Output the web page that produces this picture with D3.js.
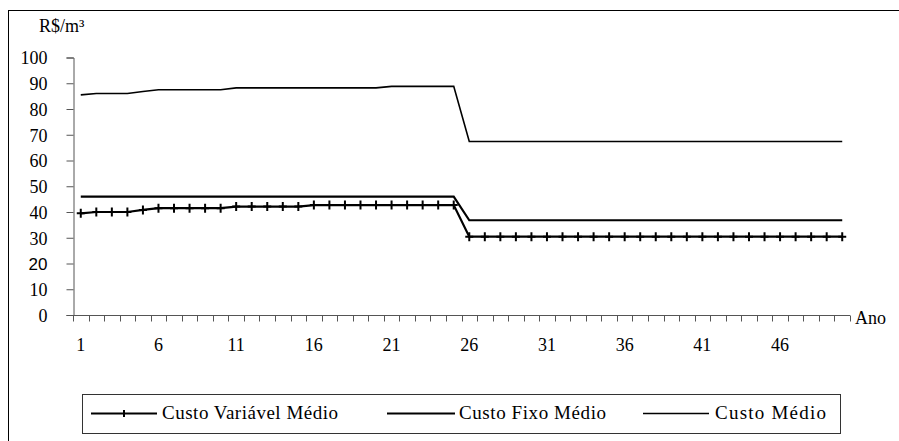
<!DOCTYPE html>
<html>
<head>
<meta charset="utf-8">
<script src="https://cdn.jsdelivr.net/npm/d3@7"></script>
<style>
  body { margin: 0; background: #fff; }
</style>
</head>
<body>
<div id="chart"></div>
<script>
// Years 1..50
const years = d3.range(1, 51);
const yTicks = [0, 10, 20, 30, 40, 50, 60, 70, 80, 90, 100];
const xLabels = [1, 6, 11, 16, 21, 26, 31, 36, 41, 46];

// Custo Variável Médio (R$/m³)
const custoVariavel = [
  39.5, 40, 40, 40, 40.8, 41.5, 41.5, 41.5, 41.5, 41.5,
  42.1, 42.1, 42.1, 42.1, 42.1, 42.7, 42.7, 42.7, 42.7, 42.7,
  42.7, 42.7, 42.7, 42.7, 42.7, 30.4, 30.4, 30.4, 30.4, 30.4,
  30.4, 30.4, 30.4, 30.4, 30.4, 30.4, 30.4, 30.4, 30.4, 30.4,
  30.4, 30.4, 30.4, 30.4, 30.4, 30.4, 30.4, 30.4, 30.4, 30.4
];
// Custo Fixo Médio
const custoFixo = [
  46, 46, 46, 46, 46, 46, 46, 46, 46, 46,
  46, 46, 46, 46, 46, 46, 46, 46, 46, 46,
  46, 46, 46, 46, 46, 36.8, 36.8, 36.8, 36.8, 36.8,
  36.8, 36.8, 36.8, 36.8, 36.8, 36.8, 36.8, 36.8, 36.8, 36.8,
  36.8, 36.8, 36.8, 36.8, 36.8, 36.8, 36.8, 36.8, 36.8, 36.8
];
// Custo Médio
const custoMedio = [
  85.5, 86, 86, 86, 86.8, 87.5, 87.5, 87.5, 87.5, 87.5,
  88.2, 88.2, 88.2, 88.2, 88.2, 88.2, 88.2, 88.2, 88.2, 88.2,
  88.8, 88.8, 88.8, 88.8, 88.8, 67.4, 67.4, 67.4, 67.4, 67.4,
  67.4, 67.4, 67.4, 67.4, 67.4, 67.4, 67.4, 67.4, 67.4, 67.4,
  67.4, 67.4, 67.4, 67.4, 67.4, 67.4, 67.4, 67.4, 67.4, 67.4
];

const w = 899, h = 441;
const axisColor = '#555';
const serif = '"Liberation Serif", "Times New Roman", serif';

const svg = d3.select('#chart')
  .append('svg')
  .attr('width', w)
  .attr('height', h)
  .style('font-family', serif);

// Outer frame (runs off the right and bottom edges)
svg.append('rect')
  .attr('x', 8.5).attr('y', 10.5)
  .attr('width', 1000).attr('height', 1000)
  .attr('fill', 'none')
  .attr('stroke', '#000');

// Scales
const x = d3.scaleBand()
  .domain(years)
  .range([73, 850]);

const y = d3.scaleLinear()
  .domain([0, 100])
  .range([315, 57.5]);

const cx = (d) => x(d) + x.bandwidth() / 2;

// Y axis
const yAxis = svg.append('g')
  .attr('transform', 'translate(73.5,0)')
  .call(d3.axisLeft(y).tickValues(yTicks).tickSize(7).tickPadding(19));

yAxis.attr('font-family', null);
yAxis.select('.domain').attr('stroke', axisColor);
yAxis.selectAll('.tick line').attr('stroke', axisColor);
// the "20" label is set in a sans face in the original
yAxis.selectAll('.tick text')
  .style('font-family', (d) => d === 20 ? '"Liberation Sans", Arial, sans-serif' : serif)
  .attr('font-size', (d) => d === 20 ? 17 : 18)
  .attr('fill', '#000')
  .attr('dy', '0.35em');

// X axis: ticks between categories, labels every 5 years
const xAxis = svg.append('g')
  .attr('transform', 'translate(0,315.5)');

xAxis.append('line')
  .attr('x1', x.range()[0]).attr('x2', x.range()[1])
  .attr('stroke', axisColor);

xAxis.selectAll('.xtick')
  .data(years.concat([51]))
  .enter().append('line')
  .attr('class', 'xtick')
  .attr('x1', (d) => Math.round(d <= 50 ? x(d) : x.range()[1]) + 0.5)
  .attr('x2', (d) => Math.round(d <= 50 ? x(d) : x.range()[1]) + 0.5)
  .attr('y1', 0).attr('y2', 6)
  .attr('stroke', axisColor);

xAxis.selectAll('.xlabel')
  .data(xLabels)
  .enter().append('text')
  .attr('class', 'xlabel')
  .attr('x', cx)
  .attr('y', 35)
  .attr('text-anchor', 'middle')
  .attr('font-size', 18)
  .text((d) => d);

svg.append('text')
  .attr('x', 855)
  .attr('y', 324)
  .attr('font-size', 18)
  .text('Ano');

svg.append('text')
  .attr('x', 39)
  .attr('y', 32)
  .attr('font-size', 18)
  .text('R$/m³');

// Lines
const line = d3.line()
  .x((d, i) => cx(years[i]))
  .y((d) => y(d));

svg.append('path')
  .attr('d', line(custoMedio))
  .attr('fill', 'none')
  .attr('stroke', '#000')
  .attr('stroke-width', 1.6);

svg.append('path')
  .attr('d', line(custoFixo))
  .attr('fill', 'none')
  .attr('stroke', '#000')
  .attr('stroke-width', 2.2);

svg.append('path')
  .attr('d', line(custoVariavel))
  .attr('fill', 'none')
  .attr('stroke', '#000')
  .attr('stroke-width', 2.2);

// "+" markers on Custo Variável Médio
svg.selectAll('.cvm-mark')
  .data(custoVariavel)
  .enter().append('path')
  .attr('class', 'cvm-mark')
  .attr('transform', (d, i) => `translate(${cx(years[i])},${y(d)})`)
  .attr('d', 'M-4,0H4M0,-4.5V4.5')
  .attr('stroke', '#000')
  .attr('stroke-width', 2);

// Legend
const legend = svg.append('g');
legend.append('rect')
  .attr('x', 82.5).attr('y', 394.5)
  .attr('width', 758).attr('height', 39)
  .attr('fill', '#fff')
  .attr('stroke', '#333');

const legendItems = [
  { name: 'Custo Variável Médio', x1: 91, x2: 157, width: 2, mark: true, tx: 162, tw: 176 },
  { name: 'Custo Fixo Médio', x1: 387, x2: 455, width: 2, mark: false, tx: 459, tw: 147 },
  { name: 'Custo Médio', x1: 643, x2: 709, width: 1.5, mark: false, tx: 715, tw: 111 }
];

legendItems.forEach((d) => {
  legend.append('line')
    .attr('x1', d.x1).attr('x2', d.x2)
    .attr('y1', 413.5).attr('y2', 413.5)
    .attr('stroke', '#000')
    .attr('stroke-width', d.width);
  if (d.mark) {
    legend.append('path')
      .attr('transform', `translate(${(d.x1 + d.x2) / 2},413.5)`)
      .attr('d', 'M0,-3.5V3.5')
      .attr('stroke', '#000')
      .attr('stroke-width', 2);
  }
  legend.append('text')
    .attr('x', d.tx)
    .attr('y', 419)
    .attr('font-size', 19)
    .attr('textLength', d.tw)
    .attr('lengthAdjust', 'spacing')
    .text(d.name);
});
</script>
</body>
</html>
